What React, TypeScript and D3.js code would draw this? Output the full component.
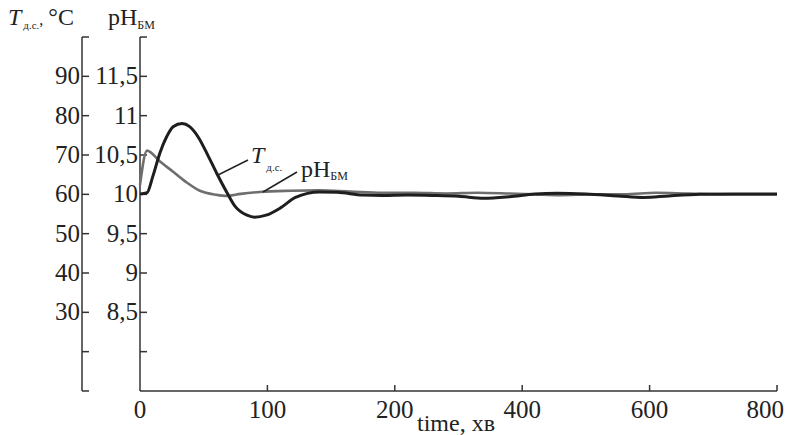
import React from "react";
import * as d3 from "d3";

// time axis is not linear in the original: ticks are equally spaced
const timeTicks = [0, 100, 200, 400, 600, 800];
const tTicks = [10, 20, 30, 40, 50, 60, 70, 80, 90, 100];
const tLabels = ["", "", "30", "40", "50", "60", "70", "80", "90", ""];
const phTicks = [7.5, 8, 8.5, 9, 9.5, 10, 10.5, 11, 11.5, 12];
const phLabels = ["", "", "8,5", "9", "9,5", "10", "10,5", "11", "11,5", ""];

// T д.с., °C
const tempTime = [0, 5.5, 10, 15.7, 21, 26, 33, 39, 46, 53, 60, 68, 75, 84, 90, 99, 110, 122, 141, 155, 175, 190, 220, 260, 300, 340, 380, 420, 455, 500, 550, 591, 630, 680, 730, 800];
const tempVals = [60.1, 60.4, 64.5, 70.6, 74.7, 77.2, 78.0, 77.2, 74.4, 70.1, 65.5, 60.6, 56.8, 54.7, 54.2, 54.7, 56.5, 59.2, 60.6, 60.5, 59.8, 59.7, 59.8, 59.7, 59.5, 59.0, 59.4, 60.1, 60.3, 60.1, 59.6, 59.2, 59.6, 60.0, 60.1, 60.1];

// pH БМ
const phTime = [0, 5.5, 15.7, 26, 37, 47, 60, 68, 79, 94, 118, 140, 165, 190, 230, 280, 330, 380, 420, 460, 510, 560, 610, 660, 720, 800];
const phVals = [10.12, 10.556, 10.416, 10.288, 10.147, 10.045, 9.994, 9.98, 10.006, 10.03, 10.045, 10.05, 10.035, 10.02, 10.02, 10.01, 10.02, 10.01, 10.0, 9.99, 10.0, 10.0, 10.02, 10.01, 10.0, 10.0];

const FONT = "Liberation Serif, DejaVu Serif, serif";

export default function App() {
  const x = d3
    .scaleLinear()
    .domain(timeTicks)
    .range(timeTicks.map((_, i) => 140 + i * 127.4));
  const yT = d3.scaleLinear().domain([10, 100]).range([391, 37]);
  const yPh = d3.scaleLinear().domain([7.5, 12]).range([391, 37]);

  const tempLine = d3
    .line<number>()
    .x((d, i) => x(tempTime[i]))
    .y(d => yT(d))
    .curve(d3.curveMonotoneX);
  const phLine = d3
    .line<number>()
    .x((d, i) => x(phTime[i]))
    .y(d => yPh(d))
    .curve(d3.curveMonotoneX);

  const axisColor = "#333";
  const textColor = "#222";
  const txt = { fontFamily: FONT, fill: textColor } as React.CSSProperties;

  return (
    <svg width={787} height={435} style={{ position: "absolute", left: 0, top: 0, background: "#fff" }}>
      {/* header labels */}
      <text x={8} y={25} fontSize={24} style={txt}>
        <tspan fontStyle="italic">T</tspan>
        <tspan fontSize={11} dy={4} dx={2}>д.с.</tspan>
        <tspan fontSize={16} dy={-4}>,</tspan>
        <tspan dx={5}>°C</tspan>
      </text>
      <text x={108} y={25} fontSize={24} style={txt}>
        pH<tspan fontSize={12} dy={4}>БМ</tspan>
      </text>

      {/* left T axis */}
      <line x1={82} x2={82} y1={yT(100)} y2={yT(10)} stroke={axisColor} strokeWidth={1.5} />
      {tTicks.map((v, i) => (
        <g key={"t" + v}>
          <line x1={82} x2={89} y1={yT(v)} y2={yT(v)} stroke={axisColor} strokeWidth={1.5} />
          <text x={80} y={yT(v) + 8} textAnchor="end" fontSize={25} style={txt}>
            {tLabels[i]}
          </text>
        </g>
      ))}

      {/* pH axis */}
      <line x1={140} x2={140} y1={yPh(12)} y2={yPh(7.5)} stroke={axisColor} strokeWidth={1.5} />
      {phTicks.map((v, i) => (
        <g key={"p" + v}>
          {i > 0 && <line x1={140} x2={147} y1={yPh(v)} y2={yPh(v)} stroke={axisColor} strokeWidth={1.5} />}
          <text x={138} y={yPh(v) + 8} textAnchor="end" fontSize={25} style={txt}>
            {phLabels[i]}
          </text>
        </g>
      ))}

      {/* time axis */}
      <line x1={140} x2={x(800)} y1={391} y2={391} stroke={axisColor} strokeWidth={1.5} />
      {timeTicks.map((v, i) => {
        const last = i === timeTicks.length - 1;
        return (
          <g key={"x" + v}>
            {v > 0 && <line x1={x(v)} x2={x(v)} y1={391} y2={385} stroke={axisColor} strokeWidth={1.5} />}
            <text
              x={last ? 784 : x(v)}
              y={418}
              textAnchor={last ? "end" : "middle"}
              fontSize={25}
              style={txt}
            >
              {v}
            </text>
          </g>
        );
      })}
      <text x={456} y={431} textAnchor="middle" fontSize={24} style={txt}>
        time, хв
      </text>

      {/* curves */}
      <path d={phLine(phVals) || ""} fill="none" stroke="#6e6e6e" strokeWidth={2.6} strokeLinejoin="round" />
      <path d={tempLine(tempVals) || ""} fill="none" stroke="#1e1e1e" strokeWidth={3} strokeLinejoin="round" />

      {/* curve labels */}
      <line x1={218} y1={175} x2={248} y2={160} stroke={textColor} strokeWidth={1.5} />
      <text x={251} y={163} fontSize={24} style={txt}>
        <tspan fontStyle="italic">T</tspan>
        <tspan fontSize={11} dy={8} dx={2}>д.с.</tspan>
      </text>
      <line x1={263} y1={192} x2={297} y2={172} stroke={textColor} strokeWidth={1.5} />
      <text x={301} y={177} fontSize={24} style={txt}>
        pH<tspan fontSize={12} dy={3}>БМ</tspan>
      </text>
    </svg>
  );
}
